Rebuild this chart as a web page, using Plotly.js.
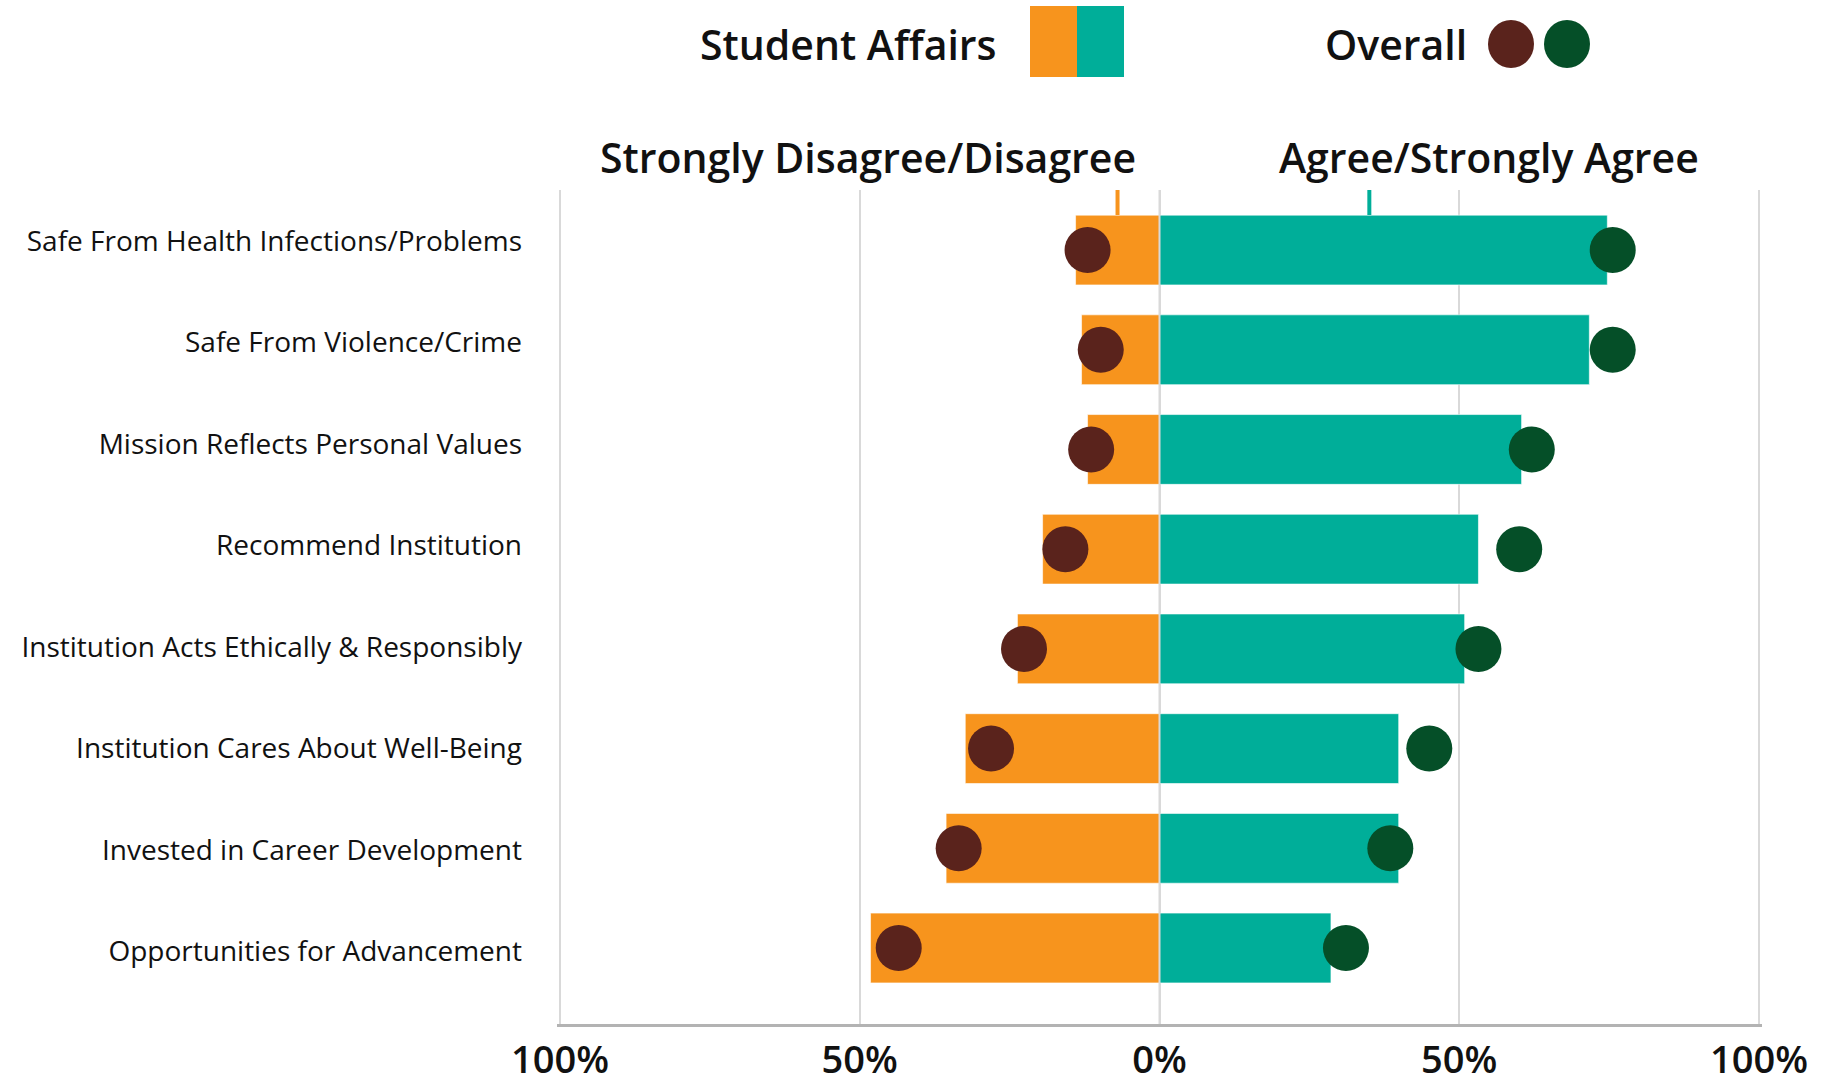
<!DOCTYPE html>
<html>
<head>
<meta charset="utf-8">
<script src="https://cdn.plot.ly/plotly-3.0.1.min.js"></script>
<style>html,body{margin:0;padding:0;background:#fff;}#chart{width:1824px;height:1085px;}</style>
</head>
<body>
<div id="chart"></div>
<script>
// ---- data ----
const categories = [
  "Safe From Health Infections/Problems",
  "Safe From Violence/Crime",
  "Mission Reflects Personal Values",
  "Recommend Institution",
  "Institution Acts Ethically & Responsibly",
  "Institution Cares About Well-Being",
  "Invested in Career Development",
  "Opportunities for Advancement"
];
const saDisagree = [-14, -13, -12, -19.5, -23.7, -32.4, -35.6, -48.2];
const saAgree = [74.7, 71.7, 60.4, 53.2, 50.9, 39.9, 39.9, 28.6];
const overallDisagree = [-12, -9.8, -11.4, -15.7, -22.6, -28.1, -33.5, -43.5];
const overallAgree = [75.6, 75.6, 62.1, 60, 53.2, 45, 38.5, 31.1];
const avgMarkers = [-7, 35];
const tickVals = [-100, -50, 0, 50, 100];
const tickText = ["100%", "50%", "0%", "50%", "100%"];
const legendLabels = ["Student Affairs", "Overall"];
const sideHeaders = ["Strongly Disagree/Disagree", "Agree/Strongly Agree"];

const ORANGE = "#F7941D", TEAL = "#00AE99", BROWN = "#5A231C", GREEN = "#054F28";
const FONT = "Open Sans, Noto Sans, sans-serif";

const traces = [
  {type: "bar", orientation: "h", y: categories, x: saDisagree, marker: {color: ORANGE, line: {color: "rgba(255,255,255,0.6)", width: 1}}, hoverinfo: "x+y", showlegend: false},
  {type: "bar", orientation: "h", y: categories, x: saAgree, marker: {color: TEAL, line: {color: "rgba(255,255,255,0.6)", width: 1}}, hoverinfo: "x+y", showlegend: false},
  {type: "scatter", mode: "markers", y: categories, x: overallDisagree, marker: {color: BROWN, size: 46}, showlegend: false},
  {type: "scatter", mode: "markers", y: categories, x: overallAgree, marker: {color: GREEN, size: 46}, showlegend: false},
  // invisible carrier for the category label axis
  {type: "scatter", mode: "markers", y: categories, x: saAgree, yaxis: "y2", marker: {opacity: 0, size: 1}, hoverinfo: "skip", showlegend: false}
];

const L = 557, R = 1762, T = 190, B = 1024;
const px2x = p => (p - L) / (R - L);
const py2y = p => (B - p) / (B - T);

const shapes = [
  {type: "line", xref: "x", yref: "paper", x0: 0, x1: 0, y0: 0, y1: 1, line: {color: "#d9d9d9", width: 2}, layer: "above"},
  {type: "line", xref: "x", yref: "paper", x0: avgMarkers[0], x1: avgMarkers[0], y0: py2y(215), y1: 1, line: {color: ORANGE, width: 4}},
  {type: "line", xref: "x", yref: "paper", x0: avgMarkers[1], x1: avgMarkers[1], y0: py2y(215), y1: 1, line: {color: TEAL, width: 4}},
  {type: "rect", xref: "paper", yref: "paper", x0: px2x(1030), x1: px2x(1077), y0: py2y(77), y1: py2y(6), fillcolor: ORANGE, line: {width: 0}},
  {type: "rect", xref: "paper", yref: "paper", x0: px2x(1077), x1: px2x(1124), y0: py2y(77), y1: py2y(6), fillcolor: TEAL, line: {width: 0}},
  {type: "circle", xref: "paper", yref: "paper", xsizemode: "pixel", ysizemode: "pixel", xanchor: px2x(1511), yanchor: py2y(44), x0: -23, x1: 23, y0: -24, y1: 24, fillcolor: BROWN, line: {width: 0}},
  {type: "circle", xref: "paper", yref: "paper", xsizemode: "pixel", ysizemode: "pixel", xanchor: px2x(1567), yanchor: py2y(44), x0: -23, x1: 23, y0: -24, y1: 24, fillcolor: GREEN, line: {width: 0}}
];

const annotations = [
  {xref: "paper", yref: "paper", x: px2x(999), y: py2y(44), xanchor: "right", yanchor: "middle", text: legendLabels[0], showarrow: false, font: {family: FONT, size: 41, color: "#111", weight: 600}},
  {xref: "paper", yref: "paper", x: px2x(1469), y: py2y(44), xanchor: "right", yanchor: "middle", text: legendLabels[1], showarrow: false, font: {family: FONT, size: 41, color: "#111", weight: 600}},
  {xref: "paper", yref: "paper", x: px2x(868), y: py2y(157), xanchor: "center", yanchor: "middle", text: sideHeaders[0], showarrow: false, font: {family: FONT, size: 41, color: "#111", weight: 600}},
  {xref: "paper", yref: "paper", x: px2x(1489), y: py2y(157), xanchor: "center", yanchor: "middle", text: sideHeaders[1], showarrow: false, font: {family: FONT, size: 41, color: "#111", weight: 600}}
];

const layout = {
  width: 1824, height: 1085,
  margin: {l: L, r: 1824 - R, t: T, b: 1085 - B},
  paper_bgcolor: "#fff", plot_bgcolor: "#fff",
  barmode: "relative", bargap: 0.3,
  font: {family: FONT, color: "#111"},
  xaxis: {
    range: [-100.5, 100.5], tickvals: tickVals, ticktext: tickText,
    showgrid: true, gridcolor: "#d9d9d9", gridwidth: 2,
    zeroline: false, showline: true, linecolor: "#b3b3b3", linewidth: 3,
    ticks: "", ticklabelstandoff: 0,
    tickfont: {family: FONT, size: 38, color: "#111", weight: 600}, fixedrange: true
  },
  yaxis: {
    type: "category", categoryorder: "array", categoryarray: categories,
    range: [7.762, -0.602], showgrid: false, zeroline: false, showline: false,
    ticks: "", showticklabels: false, fixedrange: true
  },
  yaxis2: {
    type: "category", categoryorder: "array", categoryarray: categories,
    overlaying: "y", side: "left",
    range: [7.713, -0.5], showgrid: false, zeroline: false, showline: false,
    ticks: "", ticklabelstandoff: 34,
    tickfont: {family: FONT, size: 28, color: "#111"}, fixedrange: true
  },
  shapes: shapes,
  annotations: annotations,
  showlegend: false
};

Plotly.newPlot("chart", traces, layout, {displayModeBar: false, staticPlot: true});
</script>
</body>
</html>
